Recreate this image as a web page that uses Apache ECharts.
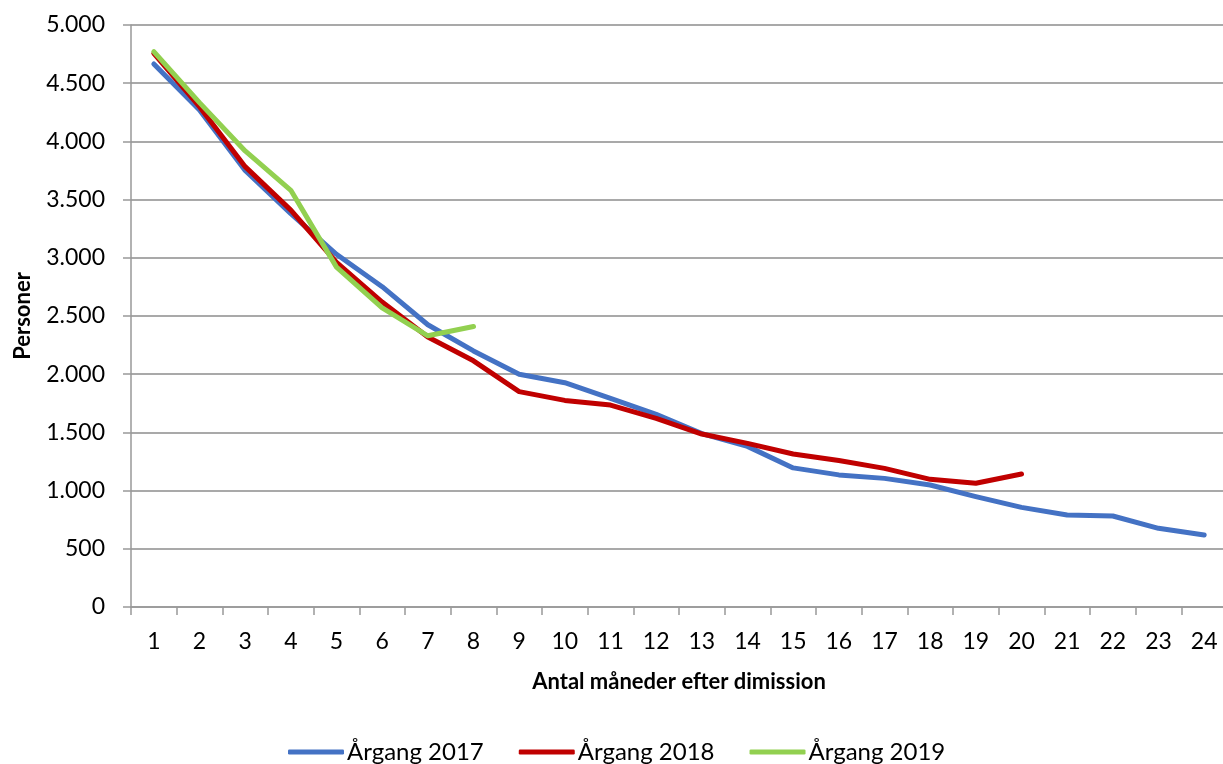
<!DOCTYPE html>
<html>
<head>
<meta charset="utf-8">
<script src="https://cdn.jsdelivr.net/npm/echarts@6/dist/echarts.min.js"></script>
<style>
html,body{margin:0;padding:0;background:#fff;overflow:hidden;}
#chart{width:1223px;height:764px;}
</style>
</head>
<body>
<div id="chart"></div>
<script>
const categories = ['1','2','3','4','5','6','7','8','9','10','11','12','13','14','15','16','17','18','19','20','21','22','23','24'];
const seriesNames = ['Årgang 2017','Årgang 2018','Årgang 2019'];
const aargang2017 = [4665,4270,3750,3380,3030,2752,2425,2200,2000,1927,1793,1655,1490,1380,1195,1135,1105,1048,948,856,790,782,676,618];
const aargang2018 = [4757,4298,3783,3410,2960,2620,2320,2115,1850,1775,1735,1621,1486,1406,1314,1258,1191,1097,1063,1143];
const aargang2019 = [4771,4333,3918,3580,2920,2569,2330,2410];
const yTicks = {min:0, max:5000, interval:500};

const colors = ['#4472C4','#C00000','#92D050'];
const font = 'Lato, "Open Sans", sans-serif';
const chart = echarts.init(document.getElementById('chart'));
function fmt(v){ return String(v).replace(/\B(?=(\d{3})+(?!\d))/g,'.'); }
const dataSets = [aargang2017, aargang2018, aargang2019];
chart.setOption({
  animation:false,
  color: colors,
  grid:{left:131, right:-4, top:25, bottom:157, containLabel:false, outerBoundsMode:'none'},
  xAxis:{
    type:'category', data:categories, boundaryGap:true,
    name:'Antal måneder efter dimission', nameLocation:'middle', nameGap:64,
    nameTextStyle:{fontFamily:font, fontSize:22, fontWeight:'bold', color:'#000', verticalAlign:'top'},
    axisLine:{lineStyle:{color:'#999', width:1.5}},
    axisTick:{show:true, length:8, lineStyle:{color:'#999', width:1.5}},
    axisLabel:{fontFamily:font, fontSize:23, color:'#000', margin:23, interval:0}
  },
  yAxis:{
    type:'value', min:yTicks.min, max:yTicks.max, interval:yTicks.interval,
    name:'Personer', nameLocation:'middle', nameGap:97, nameRotate:90,
    nameTextStyle:{fontFamily:font, fontSize:22, fontWeight:'bold', color:'#000'},
    axisLine:{show:true, lineStyle:{color:'#999', width:1.5}},
    axisTick:{show:true, length:8, lineStyle:{color:'#999', width:1.5}},
    splitLine:{lineStyle:{color:'#8c8c8c', width:1.5}},
    axisLabel:{fontFamily:font, fontSize:23, color:'#000', margin:26, formatter:fmt}
  },
  legend:{
    top:735, left:283, itemGap:35, itemWidth:56, itemHeight:5,
    icon:'roundRect',
    textStyle:{fontFamily:font, fontSize:24, color:'#000', padding:[0,0,0,-2]},
    data:seriesNames
  },
  series: seriesNames.map((n,i)=>({
    name:n, type:'line', data:dataSets[i], symbol:'none',
    lineStyle:{width:5, color:colors[i], cap:'round', join:'round'}
  }))
});
</script>
</body>
</html>
